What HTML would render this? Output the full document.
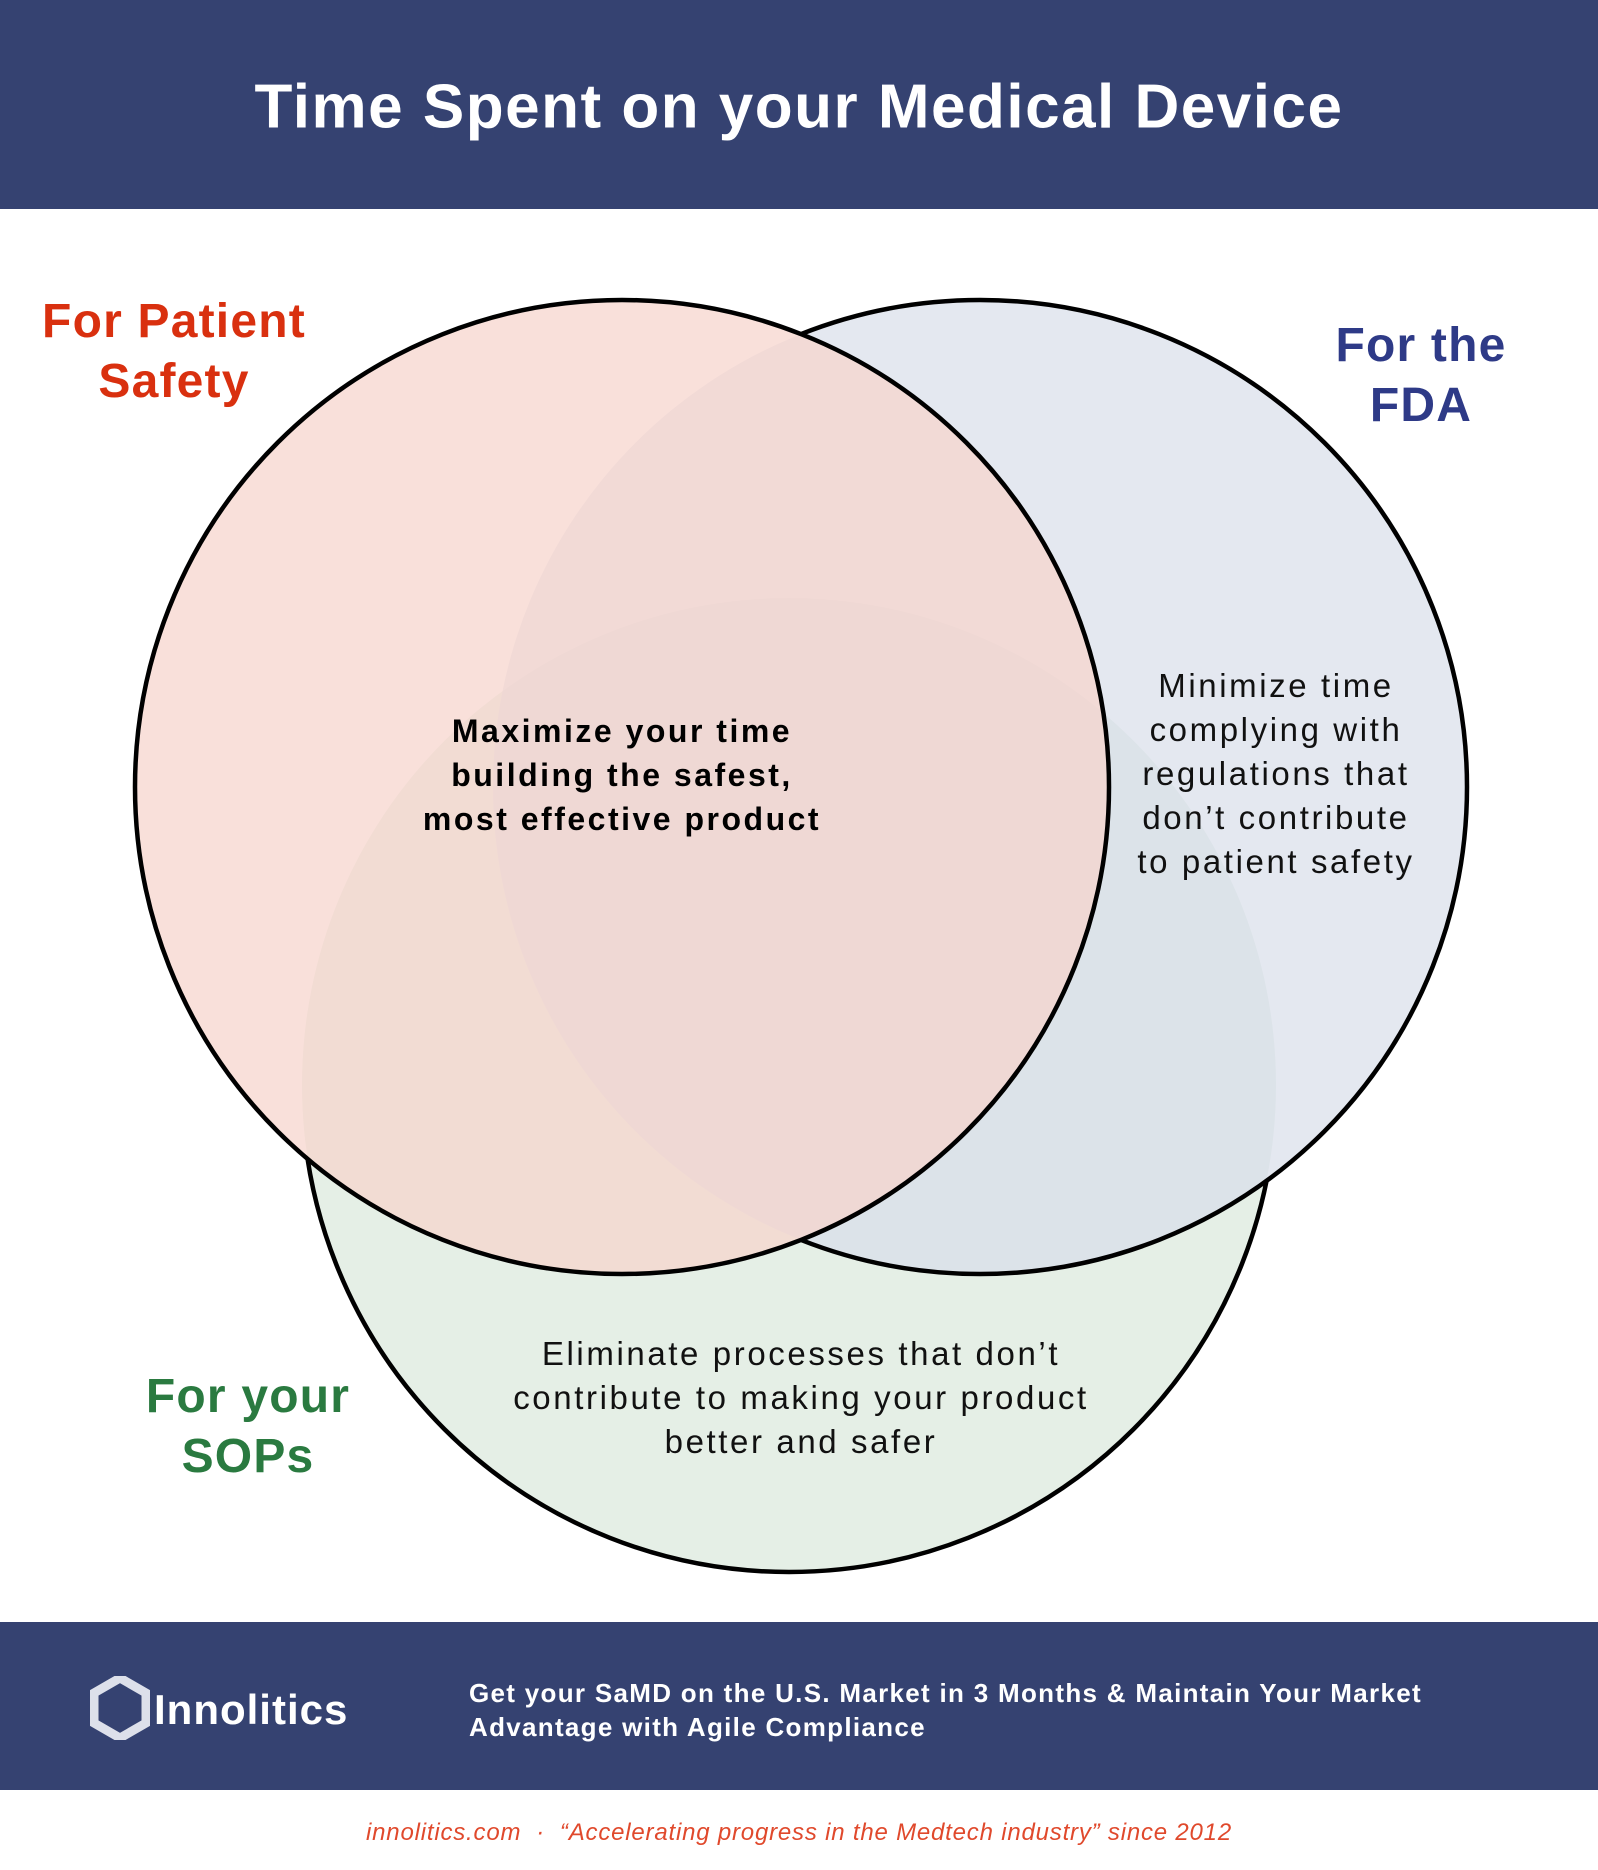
<!DOCTYPE html>
<html><head><meta charset="utf-8"><style>
body{margin:0;width:1598px;height:1870px;background:#fff;position:relative;overflow:hidden;font-family:"Liberation Sans",sans-serif}
.t{position:absolute;white-space:nowrap;transform:translate(-50%,-50%);text-align:center}
</style></head><body>
<div style="position:absolute;left:0;top:0;width:1598px;height:209px;background:#354271"></div>
<div class="t" style="left:799px;top:107px;color:#fff;font-weight:bold;font-size:62px;letter-spacing:1.5px">Time Spent on your Medical Device</div>
<svg style="position:absolute;left:0;top:0" width="1598" height="1870">
<defs>
<mask id="mb"><rect width="1598" height="1870" fill="#fff"/><circle cx="622" cy="787" r="487" fill="#000"/></mask>
<mask id="mg"><rect width="1598" height="1870" fill="#fff"/><circle cx="622" cy="787" r="487" fill="#000"/><circle cx="980" cy="787" r="487" fill="#000"/></mask>
</defs>
<circle cx="789" cy="1085" r="487" fill="#e5efe6"/>
<circle cx="980" cy="787" r="487" fill="#d8deea" fill-opacity="0.7"/>
<circle cx="622" cy="787" r="487" fill="#f6d4cc" fill-opacity="0.72"/>
<circle cx="789" cy="1085" r="487" fill="none" stroke="#000" stroke-width="4.5" mask="url(#mg)"/>
<circle cx="980" cy="787" r="487" fill="none" stroke="#000" stroke-width="4.5" mask="url(#mb)"/>
<circle cx="622" cy="787" r="487" fill="none" stroke="#000" stroke-width="4.5"/>
</svg>
<div class="t" style="left:174px;top:352px;color:#d9300f;font-weight:bold;font-size:48px;line-height:60px;letter-spacing:1.2px">For Patient<br>Safety</div>
<div class="t" style="left:1421px;top:376px;color:#2e3a87;font-weight:bold;font-size:48px;line-height:60px;letter-spacing:1.2px">For the<br>FDA</div>
<div class="t" style="left:248px;top:1427px;color:#2a7a40;font-weight:bold;font-size:48px;line-height:60px;letter-spacing:1.2px">For your<br>SOPs</div>
<div class="t" style="left:622px;top:775px;color:#000;font-weight:bold;font-size:32px;line-height:44px;letter-spacing:2.5px">Maximize your time<br>building the safest,<br>most effective product</div>
<div class="t" style="left:1276px;top:774px;color:#111;font-size:33px;line-height:44px;letter-spacing:2.6px">Minimize time<br>complying with<br>regulations that<br>don’t contribute<br>to patient safety</div>
<div class="t" style="left:801px;top:1398px;color:#111;font-size:33px;line-height:44px;letter-spacing:2.6px">Eliminate processes that don’t<br>contribute to making your product<br>better and safer</div>
<div style="position:absolute;left:0;top:1622px;width:1598px;height:168px;background:#354271"></div>
<svg style="position:absolute;left:90px;top:1676px" width="60" height="64"><polygon points="30,2 56,17 56,47 30,62 4,47 4,17" fill="none" stroke="#dde0ea" stroke-width="9"/></svg>
<div style="position:absolute;left:154px;top:1686px;color:#fff;font-weight:bold;font-size:42px;letter-spacing:1px">Innolitics</div>
<div style="position:absolute;left:469px;top:1676px;color:#fff;font-weight:bold;font-size:26px;line-height:34px;letter-spacing:1.3px">Get your SaMD on the U.S. Market in 3 Months &amp; Maintain Your Market<br>Advantage with Agile Compliance</div>
<div class="t" style="left:799px;top:1833px;color:#e0492c;font-style:italic;font-size:24px;letter-spacing:0.8px">innolitics.com &nbsp;·&nbsp; “Accelerating progress in the Medtech industry” since 2012</div>
</body></html>
